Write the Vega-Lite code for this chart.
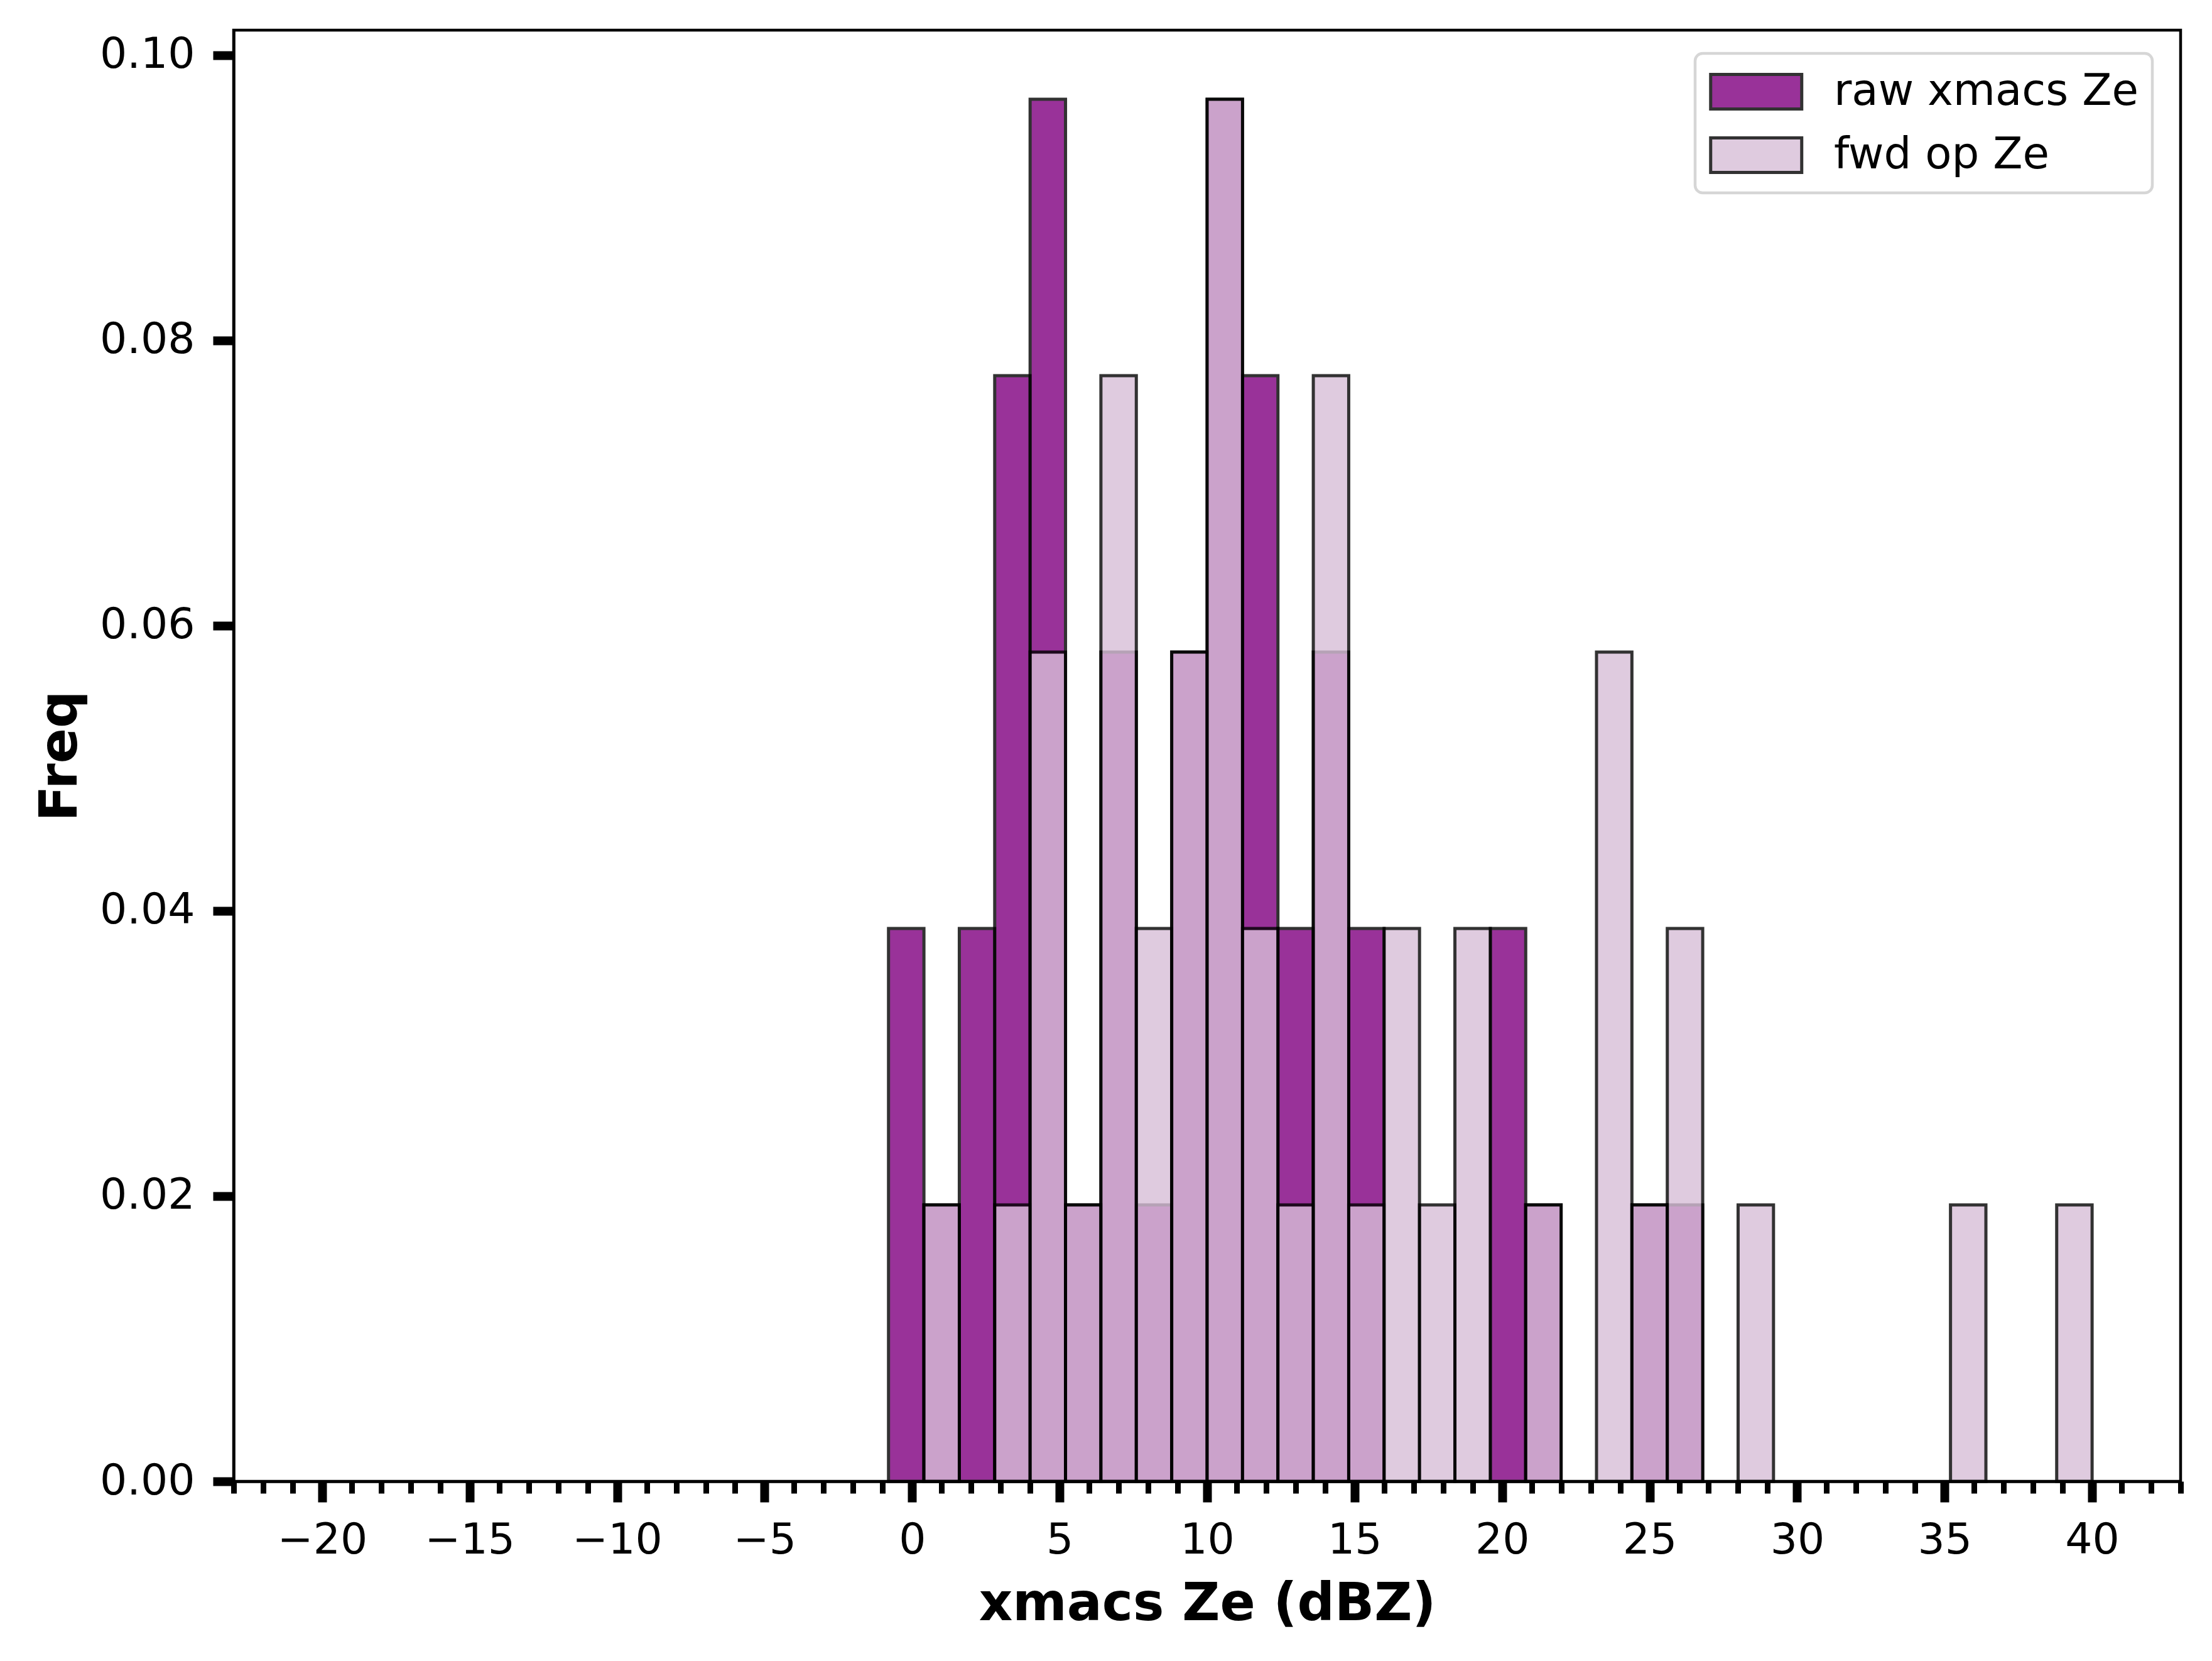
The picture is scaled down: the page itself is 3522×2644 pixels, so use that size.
{
  "$schema": "https://vega.github.io/schema/vega-lite/v6.json",
  "width": 3100,
  "height": 2310,
  "autosize": "none",
  "padding": {"left": 372, "top": 48, "right": 50, "bottom": 286},
  "background": "white",
  "config": {
    "font": "DejaVu Sans",
    "view": {"stroke": "black", "strokeWidth": 4.5},
    "axis": {"grid": false, "labelColor": "black", "titleColor": "black", "labelFont": "DejaVu Sans", "titleFont": "DejaVu Sans"}
  },
  "data": {
    "values": [
      {"series": "raw xmacs Ze", "x0": -0.8, "x1": 0.4, "freq": 0.03876},
      {"series": "raw xmacs Ze", "x0": 0.4, "x1": 1.6, "freq": 0.01938},
      {"series": "raw xmacs Ze", "x0": 1.6, "x1": 2.8, "freq": 0.03876},
      {"series": "raw xmacs Ze", "x0": 2.8, "x1": 4.0, "freq": 0.07752},
      {"series": "raw xmacs Ze", "x0": 4.0, "x1": 5.2, "freq": 0.0969},
      {"series": "raw xmacs Ze", "x0": 5.2, "x1": 6.4, "freq": 0.01938},
      {"series": "raw xmacs Ze", "x0": 6.4, "x1": 7.6, "freq": 0.05814},
      {"series": "raw xmacs Ze", "x0": 7.6, "x1": 8.8, "freq": 0.01938},
      {"series": "raw xmacs Ze", "x0": 8.8, "x1": 10.0, "freq": 0.05814},
      {"series": "raw xmacs Ze", "x0": 10.0, "x1": 11.2, "freq": 0.0969},
      {"series": "raw xmacs Ze", "x0": 11.2, "x1": 12.4, "freq": 0.07752},
      {"series": "raw xmacs Ze", "x0": 12.4, "x1": 13.6, "freq": 0.03876},
      {"series": "raw xmacs Ze", "x0": 13.6, "x1": 14.8, "freq": 0.05814},
      {"series": "raw xmacs Ze", "x0": 14.8, "x1": 16.0, "freq": 0.03876},
      {"series": "raw xmacs Ze", "x0": 19.6, "x1": 20.8, "freq": 0.03876},
      {"series": "raw xmacs Ze", "x0": 20.8, "x1": 22.0, "freq": 0.01938},
      {"series": "raw xmacs Ze", "x0": 24.4, "x1": 25.6, "freq": 0.01938},
      {"series": "raw xmacs Ze", "x0": 25.6, "x1": 26.8, "freq": 0.01938},
      {"series": "fwd op Ze", "x0": 0.4, "x1": 1.6, "freq": 0.01938},
      {"series": "fwd op Ze", "x0": 2.8, "x1": 4.0, "freq": 0.01938},
      {"series": "fwd op Ze", "x0": 4.0, "x1": 5.2, "freq": 0.05814},
      {"series": "fwd op Ze", "x0": 5.2, "x1": 6.4, "freq": 0.01938},
      {"series": "fwd op Ze", "x0": 6.4, "x1": 7.6, "freq": 0.07752},
      {"series": "fwd op Ze", "x0": 7.6, "x1": 8.8, "freq": 0.03876},
      {"series": "fwd op Ze", "x0": 8.8, "x1": 10.0, "freq": 0.05814},
      {"series": "fwd op Ze", "x0": 10.0, "x1": 11.2, "freq": 0.0969},
      {"series": "fwd op Ze", "x0": 11.2, "x1": 12.4, "freq": 0.03876},
      {"series": "fwd op Ze", "x0": 12.4, "x1": 13.6, "freq": 0.01938},
      {"series": "fwd op Ze", "x0": 13.6, "x1": 14.8, "freq": 0.07752},
      {"series": "fwd op Ze", "x0": 14.8, "x1": 16.0, "freq": 0.01938},
      {"series": "fwd op Ze", "x0": 16.0, "x1": 17.2, "freq": 0.03876},
      {"series": "fwd op Ze", "x0": 17.2, "x1": 18.4, "freq": 0.01938},
      {"series": "fwd op Ze", "x0": 18.4, "x1": 19.6, "freq": 0.03876},
      {"series": "fwd op Ze", "x0": 20.8, "x1": 22.0, "freq": 0.01938},
      {"series": "fwd op Ze", "x0": 23.2, "x1": 24.4, "freq": 0.05814},
      {"series": "fwd op Ze", "x0": 24.4, "x1": 25.6, "freq": 0.01938},
      {"series": "fwd op Ze", "x0": 25.6, "x1": 26.8, "freq": 0.03876},
      {"series": "fwd op Ze", "x0": 28.0, "x1": 29.2, "freq": 0.01938},
      {"series": "fwd op Ze", "x0": 35.2, "x1": 36.4, "freq": 0.01938},
      {"series": "fwd op Ze", "x0": 38.8, "x1": 40.0, "freq": 0.01938}
    ]
  },
  "resolve": {"axis": {"x": "independent"}},
  "layer": [
    {
      "mark": {"type": "bar", "opacity": 0, "stroke": null},
      "encoding": {
        "x": {
          "field": "x0",
          "type": "quantitative",
          "scale": {"domain": [-23, 43], "nice": false, "zero": false},
          "axis": {
            "orient": "bottom",
            "values": [-23, -22, -21, -19, -18, -17, -16, -14, -13, -12, -11, -9, -8, -7, -6, -4, -3, -2, -1, 1, 2, 3, 4, 6, 7, 8, 9, 11, 12, 13, 14, 16, 17, 18, 19, 21, 22, 23, 24, 26, 27, 28, 29, 31, 32, 33, 34, 36, 37, 38, 39, 41, 42, 43],
            "labels": false,
            "domain": false,
            "ticks": true,
            "tickSize": 19,
            "tickWidth": 9,
            "tickColor": "black",
            "title": null
          }
        },
        "x2": {"field": "x1"}
      }
    },
    {
      "mark": {"type": "bar", "opacity": 0.8, "stroke": "black", "strokeWidth": 5},
      "encoding": {
        "x": {
          "field": "x0",
          "type": "quantitative",
          "scale": {"domain": [-23, 43], "nice": false, "zero": false},
          "axis": {
            "orient": "bottom",
            "values": [-20, -15, -10, -5, 0, 5, 10, 15, 20, 25, 30, 35, 40],
            "labelExpr": "replace(datum.label, '-', '\u2212')",
            "labelFontSize": 68,
            "labelPadding": 27,
            "tickSize": 33,
            "tickWidth": 14,
            "tickColor": "black",
            "domainColor": "black",
            "domainWidth": 4.5,
            "title": "xmacs Ze (dBZ)",
            "titleFontSize": 83,
            "titleFontWeight": "bold",
            "titleBaseline": "alphabetic",
            "titleX": 1550,
            "titleY": 220
          }
        },
        "x2": {"field": "x1"},
        "y": {
          "field": "freq",
          "type": "quantitative",
          "stack": null,
          "scale": {"domain": [0, 0.10174], "nice": false},
          "axis": {
            "values": [0, 0.02, 0.04, 0.06, 0.08, 0.1],
            "format": ".2f",
            "labelFontSize": 68,
            "labelPadding": 29,
            "tickSize": 33,
            "tickWidth": 14,
            "tickColor": "black",
            "domainColor": "black",
            "domainWidth": 4.5,
            "title": "Freq",
            "titleFontSize": 83,
            "titleFontWeight": "bold",
            "titleAngle": -90,
            "titleBaseline": "alphabetic",
            "titleAlign": "center",
            "titleX": -251,
            "titleY": 1155
          }
        },
        "y2": {"datum": 0},
        "color": {
          "field": "series",
          "type": "nominal",
          "sort": ["raw xmacs Ze", "fwd op Ze"],
          "scale": {"domain": ["raw xmacs Ze", "fwd op Ze"], "range": ["#800080", "#d8bfd8"]},
          "legend": {
            "title": null,
            "orient": "none",
            "legendX": 2327,
            "legendY": 37,
            "padding": 22,
            "fillColor": "white",
            "strokeColor": "#d6d6d6",
            "cornerRadius": 12,
            "symbolType": "M-1,-0.76H3V0.76H-1Z",
            "symbolSize": 5256,
            "symbolStrokeColor": "black",
            "symbolStrokeWidth": 5,
            "symbolOpacity": 0.8,
            "labelFontSize": 69,
            "labelFont": "DejaVu Sans",
            "labelColor": "black",
            "labelLimit": 1000,
            "labelOffset": 121,
            "rowPadding": 24,
            "encode": {"legend": {"update": {"strokeWidth": {"value": 4.5}}}}
          }
        }
      }
    }
  ]
}
